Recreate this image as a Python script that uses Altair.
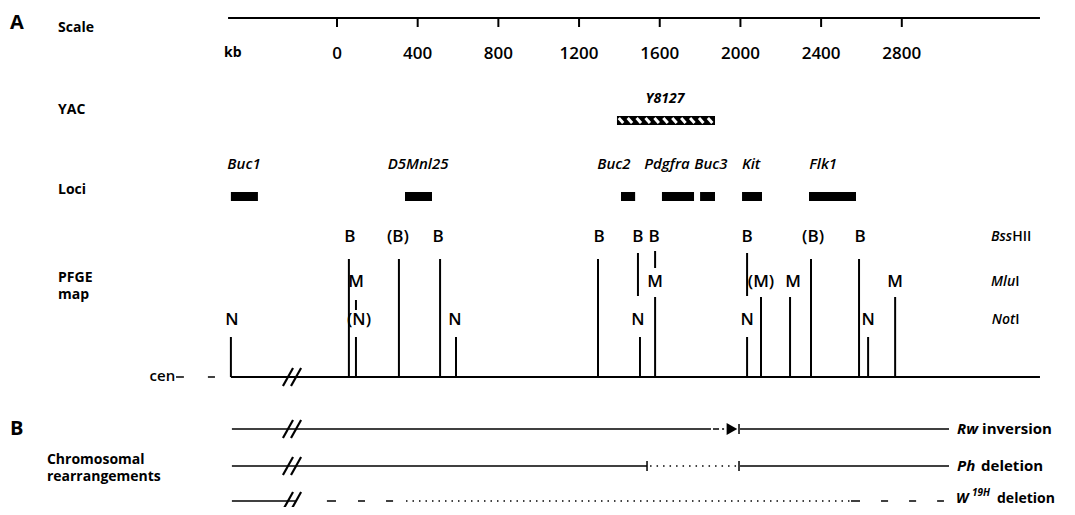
import altair as alt
import pandas as pd

# ---------------- values (positions along the chromosome, kb) ----------------
scale_ticks = [0, 400, 800, 1200, 1600, 2000, 2400, 2800]
scale_line = [-540, 3485]

yac_name = ["Y8127"]
yac_start = [1388]
yac_end = [1874]
yac_label_at = [1626]

loci_names = ["Buc1", "D5Mnl25", "Buc2", "Pdgfra", "Buc3", "Kit", "Flk1"]
loci_start = [-526, 337, 1408, 1611, 1800, 2008, 2340]
loci_end = [-392, 471, 1478, 1770, 1874, 2107, 2573]
loci_label_at = [-461, 402, 1373, 1636, 1854, 2053, 2410]

bss_sites = [59, 307, 511, 1294, 1492, 1577, 2033, 2350, 2588]
bss_text = ["B", "(B)", "B", "B", "B", "B", "B", "(B)", "B"]
bss_text_at = [64, 302, 501, 1299, 1492, 1572, 2033, 2360, 2593]
bss_reach = ["full", "full", "full", "full", "upper", "top", "upper", "full", "full"]

mlu_sites = [94, 1577, 2102, 2246, 2767]
mlu_text = ["M", "M", "(M)", "M", "M"]
mlu_text_at = [94, 1577, 2102, 2261, 2767]
mlu_reach = ["stub", "mlu", "mlu", "mlu", "mlu"]

not_sites = [-526, 94, 590, 1502, 2033, 2633]
not_text = ["N", "(N)", "N", "N", "N", "N"]
not_text_at = [-521, 109, 585, 1492, 2033, 2633]
not_reach = ["not", "not", "not", "not", "not", "not"]

chrom_start = -526
chrom_end = 3485
break_left = -268
cen_dashes = [(-798, -759), (-640, -605)]

rw_solid = [(-521, 1854), (1998, 3034)]
rw_dashes = [(1864, 1894), (1909, 1919)]
rw_arrow = [1958]
rw_ticks = [1993]

ph_solid = [(-521, 1537), (1998, 3034)]
ph_dotted = [(1552, 1983)]
ph_ticks = [1537, 1993]

w_solid = [(-521, -203)]
w_dashes = [(-50, -5), (104, 139), (243, 278), (2548, 2593), (2697, 2732), (2836, 2871), (2975, 3009)]
w_dotted = [(342, 2548)]

# ---------------- layout (page rows, px) ----------------
ROW = {"scale": 18, "tick_end": 27, "tick_label": 54, "yac_text": 99, "yac_top": 116, "yac_bottom": 125,
       "loci_text": 164, "loci_top": 192, "loci_bottom": 201, "bss_text": 237, "mlu_text": 282,
       "not_text": 320, "base": 377, "rw": 429, "ph": 466, "w": 501}
REACH = {"full": (259, 377), "upper": (253, 296), "top": (251, 268), "mlu": (297, 377),
         "stub": (300, 310), "not": (337, 377)}

W, H = 1059, 499
XS = alt.Scale(domain=[-1631, 3619], nice=False, zero=False)
YS = alt.Scale(domain=[8, 507], reverse=True, nice=False, zero=False)
FONT = "Open Sans"


def X(f):
    return alt.X(f, type="quantitative", scale=XS, axis=None)


def Y(f):
    return alt.Y(f, type="quantitative", scale=YS, axis=None)


# ---------------- rule segments ----------------
rules = []


def seg(x1, x2, y1, y2, sw):
    rules.append(dict(x=x1, x2=x2, y=y1, y2=y2, sw=sw))


seg(scale_line[0], scale_line[1], ROW["scale"], ROW["scale"], 2)
for t in scale_ticks:
    seg(t, t, ROW["scale"], ROW["tick_end"], 2)
seg(chrom_start, chrom_end, ROW["base"], ROW["base"], 2)
for a, b in cen_dashes:
    seg(a, b, ROW["base"], ROW["base"], 1.5)
for sites, reach in [(bss_sites, bss_reach), (mlu_sites, mlu_reach), (not_sites, not_reach)]:
    for p, r in zip(sites, reach):
        seg(p, p, REACH[r][0], REACH[r][1], 2)
for a, b in rw_solid + rw_dashes:
    seg(a, b, ROW["rw"], ROW["rw"], 1.5)
for p in rw_ticks:
    seg(p, p, ROW["rw"] - 5, ROW["rw"] + 5, 1.5)
for a, b in ph_solid:
    seg(a, b, ROW["ph"], ROW["ph"], 1.5)
for p in ph_ticks:
    seg(p, p, ROW["ph"] - 5, ROW["ph"] + 5, 1.5)
for a, b in w_solid + w_dashes:
    seg(a, b, ROW["w"], ROW["w"], 1.5)
# "//" break marks
for key in ["base", "rw", "ph", "w"]:
    y = ROW[key]
    for off in (0, 40):
        seg(break_left + off, break_left + off + 50, y + 9, y - 9, 2.2)

rules_df = pd.DataFrame(rules)
rule_layer = alt.Chart(rules_df).mark_rule(color="black", strokeCap="butt").encode(
    x=X("x"), x2="x2", y=Y("y"), y2="y2", strokeWidth=alt.StrokeWidth("sw:Q", scale=None))

dots_df = pd.DataFrame(
    [dict(x=a, x2=b, y=ROW["ph"], y2=ROW["ph"]) for a, b in ph_dotted]
    + [dict(x=a, x2=b, y=ROW["w"], y2=ROW["w"]) for a, b in w_dotted])
dot_layer = alt.Chart(dots_df).mark_rule(color="black", strokeWidth=1.5, strokeDash=[1.5, 5]).encode(
    x=X("x"), x2="x2", y=Y("y"), y2="y2")

# ---------------- boxes ----------------
box_df = pd.DataFrame(
    [dict(x=a, x2=b, y=ROW["loci_top"], y2=ROW["loci_bottom"]) for a, b in zip(loci_start, loci_end)]
    + [dict(x=a, x2=b, y=ROW["yac_top"], y2=ROW["yac_bottom"]) for a, b in zip(yac_start, yac_end)])
box_layer = alt.Chart(box_df).mark_rect(color="black").encode(x=X("x"), x2="x2", y=Y("y"), y2="y2")

# hatch stripes of the YAC bar (decoration)
stripes = []
n_str = 11
for a, b in zip(yac_start, yac_end):
    pitch = (b - a) / n_str
    for i in range(n_str):
        s0 = a + pitch * (i + 0.2)
        stripes.append(dict(x=s0, x2=s0 + pitch * 0.5, y=ROW["yac_top"] + 2, y2=ROW["yac_bottom"] - 2))
stripe_layer = alt.Chart(pd.DataFrame(stripes)).mark_rule(color="white", strokeWidth=3).encode(
    x=X("x"), x2="x2", y=Y("y"), y2="y2")

arrow_layer = alt.Chart(pd.DataFrame({"x": rw_arrow, "y": [ROW["rw"]] * len(rw_arrow)})).mark_point(
    shape="triangle-right", filled=True, color="black", opacity=1, size=150).encode(x=X("x"), y=Y("y"))


# ---------------- texts ----------------
def txt(rows, size, weight="normal", style="normal", align="left", baseline="middle"):
    df = pd.DataFrame(rows, columns=["x", "y", "t"])
    return alt.Chart(df).mark_text(align=align, baseline=baseline, font=FONT, fontSize=size,
                                   fontWeight=weight, fontStyle=style, color="black").encode(
        x=X("x"), y=Y("y"), text="t:N")


panel = txt([(-1621, 29, "A"), (-1621, 435, "B")], 20, "bold", baseline="alphabetic")
row_labels = txt([(-1383, 28, "Scale"), (-1383, 110, "YAC"), (-1383, 190, "Loci"),
                  (-1383, 278, "PFGE"), (-1383, 295, "map"), (-1438, 460, "Chromosomal"),
                  (-1438, 477, "rearrangements"), (-560, ROW["tick_label"] - 1, "kb")], 14, "bold")
tick_labels = txt([(t, ROW["tick_label"], str(t)) for t in scale_ticks], 17, 600, align="center")
yac_text = txt([(p, ROW["yac_text"], n) for p, n in zip(yac_label_at, yac_name)], 14, "bold", "italic", "center")
loci_text = txt([(p, ROW["loci_text"], n) for p, n in zip(loci_label_at, loci_names)], 15, 600, "italic", "center")
site_text = txt([(p, ROW["bss_text"], n) for p, n in zip(bss_text_at, bss_text)]
                + [(p, ROW["mlu_text"], n) for p, n in zip(mlu_text_at, mlu_text)]
                + [(p, ROW["not_text"], n) for p, n in zip(not_text_at, not_text)], 17, 600, align="center")
enz_it = txt([(3347, ROW["bss_text"], "Bss"), (3362, ROW["mlu_text"], "Mlu"), (3362, ROW["not_text"], "Not")],
             14, 600, "italic", "right")
enz_rm = txt([(3347, ROW["bss_text"], "HII"), (3362, ROW["mlu_text"], "I"), (3362, ROW["not_text"], "I")],
             14, 600, "normal", "left")
cen_text = txt([(-802, ROW["base"] - 1, "cen")], 15, 600, align="right")
rear_it = txt([(3074, ROW["rw"], "Rw"), (3074, ROW["ph"], "Ph")], 15, "bold", "italic")
rear_bold = txt([(3198, ROW["rw"], "inversion"), (3193, ROW["ph"], "deletion")], 15, "bold")
w_it = txt([(3069, 503, "W")], 14, "bold", "italic", baseline="alphabetic")
w_sup = txt([(3148, 496, "19H")], 10, "bold", "italic", baseline="alphabetic")
w_bold = txt([(3272, 503, "deletion")], 14, "bold", baseline="alphabetic")

chart = alt.layer(
    box_layer, stripe_layer, rule_layer, dot_layer, arrow_layer,
    panel, row_labels, tick_labels, yac_text, loci_text, site_text, enz_it, enz_rm, cen_text,
    rear_it, rear_bold, w_it, w_sup, w_bold,
).properties(
    width=W, height=H, autosize=alt.AutoSizeParams(type="none"), padding=0, background="white"
).configure_view(stroke=None)

chart.save("out.html", embed_options={"renderer": "svg", "actions": False})
